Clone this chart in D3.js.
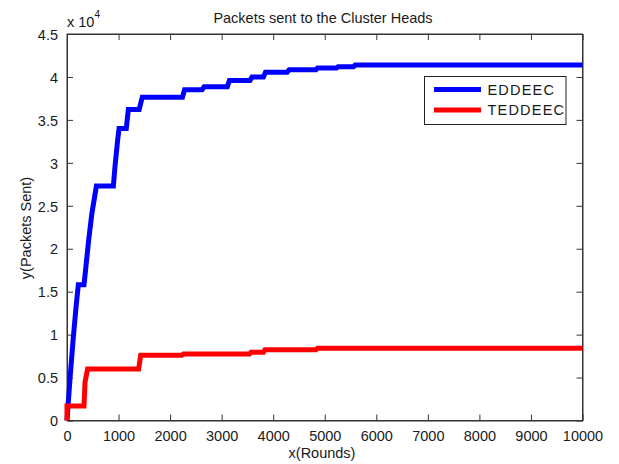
<!DOCTYPE html>
<html>
<head>
<meta charset="utf-8">
<script src="https://cdn.jsdelivr.net/npm/d3@7"></script>
<style>
  html, body { margin: 0; padding: 0; background: #fff; }
  svg { display: block; }
  text { font-family: "Liberation Sans", Arial, Helvetica, sans-serif; fill: #1a1a1a; }
</style>
</head>
<body>
<svg id="chart" width="619" height="464"></svg>
<script>
// Cumulative packets sent to cluster heads, per round
const seriesNames = ["EDDEEC", "TEDDEEC"];
const seriesColors = ["#0000ff", "#ff0000"];

const eddeecRounds = [0, 20, 60, 120, 180, 220, 330, 360, 420, 480, 570, 900, 930, 980, 1010, 1150, 1190, 1400, 1460, 2240, 2280, 2620, 2660, 3110, 3150, 3550, 3590, 3810, 3850, 4270, 4310, 4830, 4860, 5230, 5260, 5560, 5590, 10000];
const eddeecPackets = [0, 1700, 5000, 9500, 13500, 15800, 15800, 17500, 21000, 24000, 27300, 27300, 29500, 32500, 34000, 34000, 36200, 36200, 37650, 37650, 38500, 38500, 38850, 38850, 39600, 39600, 40000, 40000, 40550, 40550, 40850, 40850, 41050, 41050, 41200, 41200, 41400, 41400];

const teddeecRounds = [0, 0, 330, 350, 400, 1390, 1430, 2230, 2260, 3540, 3570, 3810, 3840, 4830, 4860, 10000];
const teddeecPackets = [0, 1700, 1700, 4500, 6000, 6000, 7600, 7600, 7750, 7750, 7950, 7950, 8250, 8250, 8400, 8400];

const xTicks = [0, 1000, 2000, 3000, 4000, 5000, 6000, 7000, 8000, 9000, 10000];
const yTicks = [0, 5000, 10000, 15000, 20000, 25000, 30000, 35000, 40000, 45000];
const yTickLabels = ["0", "0.5", "1", "1.5", "2", "2.5", "3", "3.5", "4", "4.5"];

const titleText = "Packets sent to the Cluster Heads";
const xLabelText = "x(Rounds)";
const yLabelText = "y(Packets Sent)";

const svg = d3.select("#chart");
const plot = { left: 67, right: 582.5, top: 34, bottom: 420.5 };

const x = d3.scaleLinear().domain([0, 10000]).range([plot.left, plot.right]);
const y = d3.scaleLinear().domain([0, 45000]).range([plot.bottom, plot.top]);

const axisColor = "#333";
const tickLen = 6;

// Frame
svg.append("rect")
  .attr("x", plot.left).attr("y", plot.top)
  .attr("width", plot.right - plot.left).attr("height", plot.bottom - plot.top)
  .attr("fill", "#fff").attr("stroke", axisColor).attr("stroke-width", 1);

// Axes with inward ticks on all four sides
const fontSize = "14.5px";
const bottomAxis = svg.append("g").attr("transform", `translate(0,${plot.bottom})`)
  .call(d3.axisBottom(x).tickValues(xTicks).tickSizeInner(-tickLen).tickSizeOuter(0).tickPadding(9).tickFormat(d3.format("d")));
const topAxis = svg.append("g").attr("transform", `translate(0,${plot.top})`)
  .call(d3.axisTop(x).tickValues(xTicks).tickSizeInner(-tickLen).tickSizeOuter(0).tickFormat(""));
const leftAxis = svg.append("g").attr("transform", `translate(${plot.left},0)`)
  .call(d3.axisLeft(y).tickValues(yTicks).tickSizeInner(-tickLen).tickSizeOuter(0).tickPadding(9)
    .tickFormat((d, i) => yTickLabels[i]));
const rightAxis = svg.append("g").attr("transform", `translate(${plot.right},0)`)
  .call(d3.axisRight(y).tickValues(yTicks).tickSizeInner(-tickLen).tickSizeOuter(0).tickFormat(""));

[bottomAxis, topAxis, leftAxis, rightAxis].forEach(g => {
  g.select(".domain").attr("stroke", axisColor);
  g.selectAll(".tick line").attr("stroke", axisColor);
  g.selectAll(".tick text")
    .attr("font-family", "'Liberation Sans', Arial, sans-serif")
    .attr("font-size", fontSize).attr("fill", "#1a1a1a");
});
bottomAxis.selectAll(".tick text").attr("dy", "0.78em");
leftAxis.selectAll(".tick text").attr("dy", "0.36em");

// Exponent marker
const expo = svg.append("text").attr("x", 67).attr("y", 26.5).attr("font-size", fontSize);
expo.append("tspan").text("x 10");
expo.append("tspan").attr("dy", -9).attr("font-size", "10px").text("4");

// Title and axis labels
svg.append("text").attr("x", 323).attr("y", 22.5).attr("text-anchor", "middle")
  .attr("font-size", fontSize).text(titleText);
svg.append("text").attr("x", 322).attr("y", 458).attr("text-anchor", "middle")
  .attr("font-size", fontSize).text(xLabelText);
svg.append("text").attr("transform", "translate(31,228) rotate(-90)").attr("text-anchor", "middle")
  .attr("font-size", fontSize).text(yLabelText);

// Series lines
const line = d3.line().x(d => x(d[0])).y(d => y(d[1]));
const series = [
  d3.zip(eddeecRounds, eddeecPackets),
  d3.zip(teddeecRounds, teddeecPackets)
];
series.forEach((pts, i) => {
  svg.append("path").datum(pts)
    .attr("d", line)
    .attr("fill", "none")
    .attr("stroke", seriesColors[i])
    .attr("stroke-width", 5)
    .attr("stroke-linejoin", "miter")
    .attr("stroke-miterlimit", 2);
});

// Legend
const legend = svg.append("g");
legend.append("rect").attr("x", 424.5).attr("y", 76.5).attr("width", 141.5).attr("height", 48)
  .attr("fill", "#fff").attr("stroke", "#222").attr("stroke-width", 1);
seriesNames.forEach((name, i) => {
  const ly = 89.5 + i * 20.5;
  legend.append("line").attr("x1", 434).attr("x2", 481).attr("y1", ly).attr("y2", ly)
    .attr("stroke", seriesColors[i]).attr("stroke-width", 5);
  legend.append("text").attr("x", 487.5).attr("y", ly).attr("dy", "0.36em")
    .attr("font-size", fontSize).attr("letter-spacing", "1.2px").text(name);
});
</script>
</body>
</html>
